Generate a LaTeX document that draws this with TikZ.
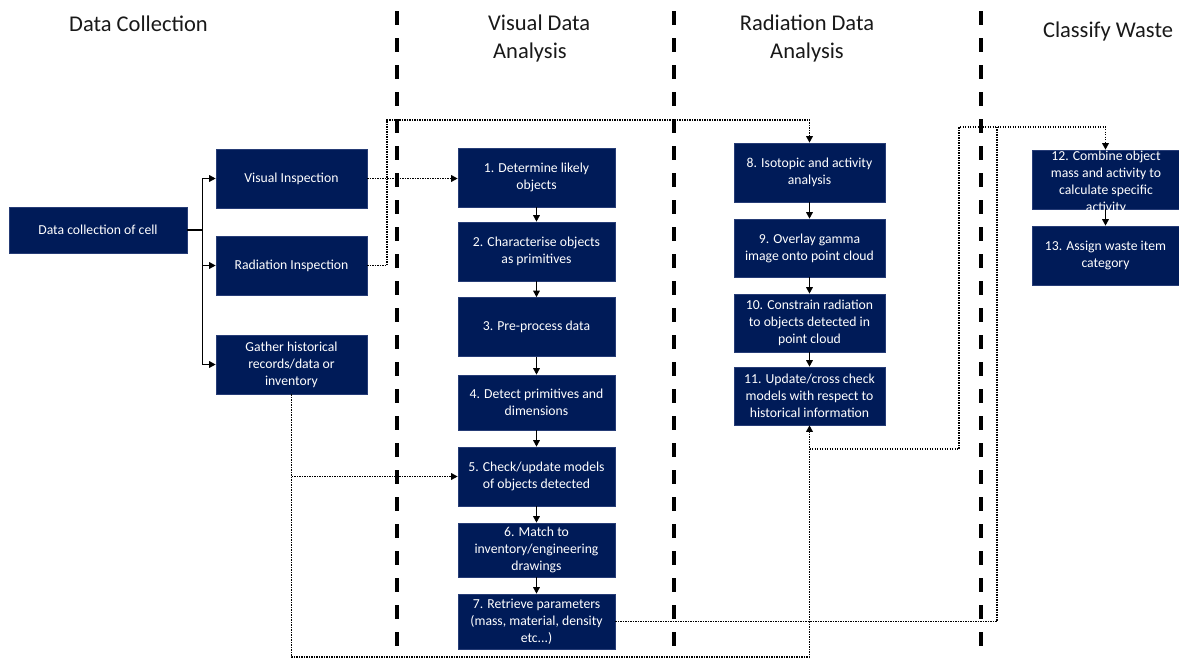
\documentclass[tikz,border=0pt]{standalone}
\usepackage{fontspec}
\setmainfont{Carlito}
\usetikzlibrary{arrows.meta}
\definecolor{navy}{RGB}{0,27,88}
\definecolor{navyedge}{RGB}{38,60,118}
\definecolor{titlegrey}{RGB}{25,25,25}
\begin{document}
\begin{tikzpicture}[x=1pt,y=-1pt,
  box/.style={fill=navy, draw=navyedge, line width=0.6pt, text=white,
    align=center, inner sep=0pt, font=\fontsize{13.7}{17}\selectfont},
  boxtext/.style={text=white, align=center, inner sep=0pt,
    font=\fontsize{13.7}{17}\selectfont},
  title/.style={text=titlegrey, align=center, inner sep=0pt,
    font=\fontsize{22.5}{28}\selectfont},
  flow/.style={line width=1.4pt, -{Triangle[length=6.5pt,width=6.5pt]}},
  trunk/.style={line width=1.4pt},
  link/.style={line width=1.6pt, dash pattern=on 1.4pt off 1.1pt},
  linkarrow/.style={link, -{Triangle[length=6.5pt,width=6.5pt]}},
  divider/.style={line width=3.6pt, dash pattern=on 14pt off 13pt, dash phase=16pt}
]
\useasboundingbox (0,0) rectangle (1179,659);
\fill[white] (0,0) rectangle (1179,659);

% column headings (two-line headings sit on the baseline of their last line)
\node[title, anchor=base] (hdc) at (138.5,31) {Data Collection};
\node[title, align=left, anchor=base west] (hvd) at (488,58) {Visual Data\\\hspace{5pt}Analysis};
\node[title, anchor=base] (hrd) at (807,58) {Radiation Data\\Analysis};
\node[title, anchor=base] (hcw) at (1108,37) {Classify Waste};

% data collection
\node[box, minimum width=178, minimum height=46] (dc) at (98,230) {Data collection of cell};
\node[box, minimum width=151, minimum height=59] (vi) at (291.5,178.5) {Visual Inspection};
\node[box, minimum width=151, minimum height=59] (ri) at (291.5,265.5) {Radiation Inspection};
\node[box, minimum width=151, minimum height=59] (gh) at (291.5,364.5) {Gather historical\\records/data or\\inventory};

% visual data analysis
\node[box, minimum width=157, minimum height=59] (b1) at (536.5,177.5) {1. Determine likely\\objects};
\node[box, minimum width=157, minimum height=59] (b2) at (536.5,251.5) {2. Characterise objects\\as primitives};
\node[box, minimum width=157, minimum height=59] (b3) at (536.5,327) {3. Pre-process data};
\node[box, minimum width=157, minimum height=55] (b4) at (536.5,402.5) {4. Detect primitives and\\dimensions};
\node[box, minimum width=157, minimum height=59] (b5) at (536.5,476.5) {5. Check/update models\\of objects detected};
\node[box, minimum width=157, minimum height=54] (b6) at (536.5,550) {6. Match to\\inventory/engineering\\drawings};
\node[box, minimum width=157, minimum height=55] (b7) at (536.5,621.5) {7. Retrieve parameters\\(mass, material, density\\etc...)};

% radiation data analysis
\node[box, minimum width=151, minimum height=59] (b8) at (809.5,172.5) {8. Isotopic and activity\\analysis};
\node[box, minimum width=151, minimum height=58] (b9) at (809.5,248) {9. Overlay gamma\\image onto point cloud};
\node[box, minimum width=151, minimum height=58] (b10) at (809.5,323) {10. Constrain radiation\\to objects detected in\\point cloud};
\node[box, minimum width=151, minimum height=58] (b11) at (809.5,396) {11. Update/cross check\\models with respect to\\historical information};

% classify waste
\node[box, minimum width=147, minimum height=59] (b12) at (1105.5,179.5) {};
\node[boxtext] (b12t) at (1106,182) {12. Combine object\\mass and activity to\\calculate specific\\activity};
\node[box, minimum width=147, minimum height=59] (b13) at (1105.5,255.5) {13. Assign waste item\\category};

% solid flow
\draw[trunk] (dc.east) -- ++(15,0) coordinate (split);
\draw[flow] (split) |- (vi.west);
\draw[flow] (split) |- (ri.west);
\draw[flow] (split) |- (gh.west);
\draw[flow] (b1) -- (b2);
\draw[flow] (b2) -- (b3);
\draw[flow] (b3) -- (b4);
\draw[flow] (b4) -- (b5);
\draw[flow] (b5) -- (b6);
\draw[flow] (b6) -- (b7);
\draw[flow] (b8) -- (b9);
\draw[flow] (b9) -- (b10);
\draw[flow] (b10) -- (b11);
\draw[flow] (b12) -- (b13);

% dotted information links
\coordinate (radturn) at (387,120);
\coordinate (histbottom) at (291.5,657);
\coordinate (upd) at (809.5,449);
\coordinate (rise) at (959,127);
\coordinate (paramrise) at (997,127);
\draw[linkarrow] (vi.east) -- (vi.east -| b1.west);
\draw[linkarrow] (ri.east) -| (radturn) -| (b8.north);
\draw[linkarrow] (gh.south) |- (b5.west);
\draw[linkarrow] (gh.south) -- (histbottom) -| (b11.south);
\draw[linkarrow] (upd) -| (rise) -| (b12.north);
\draw[link] (b7.east) -| (paramrise);

% phase dividers
\foreach \xx in {397,674,981}
  \draw[divider] (\xx,0) -- (\xx,659);
\end{tikzpicture}
\end{document}
